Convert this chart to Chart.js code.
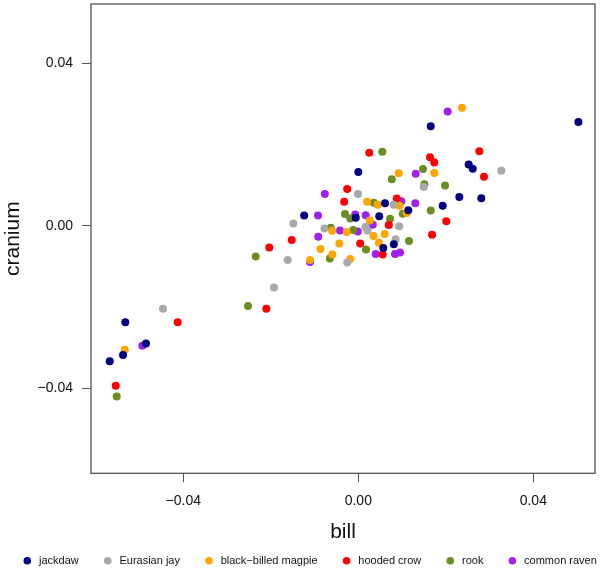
<!DOCTYPE html>
<html>
<head>
<meta charset="utf-8">
<script src="https://cdn.jsdelivr.net/npm/chart.js@4"></script>
<style>
  html, body { margin: 0; padding: 0; background: #fff; }
  #wrap { width: 600px; height: 569px; position: relative; }
</style>
</head>
<body>
<div id="wrap"><canvas id="c"></canvas></div>
<script>
// ---- data (bill, cranium) ----
const species = ['jackdaw', 'Eurasian jay', 'black\u2212billed magpie', 'hooded crow', 'rook', 'common raven'];
const speciesColors = ['#000080', '#A9A9A9', '#FFA500', '#FF0000', '#6B8E23', '#A020F0'];

const jackdaw = [[0.0503,0.02554],[0.01655,0.02449],[0.02523,0.01509],[0.02615,0.01403],[0.02309,0.0071],[0.02811,0.00676],[0.01929,0.0049],[0.0,0.01323],[0.0061,0.00554],[0.01143,0.00382],[-0.01237,0.00252],[-0.00059,0.00196],[0.00478,0.00233],[0.00811,-0.00458],[0.00571,-0.00549],[-0.05326,-0.02376],[-0.04853,-0.029],[-0.05378,-0.03184],[-0.05682,-0.03341]];
const eurasianJay = [[0.03269,0.01354],[0.01495,0.00955],[-0.00007,0.00779],[0.00805,0.00514],[0.00935,-0.0001],[0.00853,-0.00331],[-0.01486,0.00056],[-0.00773,-0.00071],[0.00165,-0.00029],[0.0021,-0.00115],[-0.01614,-0.00843],[-0.00254,-0.00904],[-0.01927,-0.01523],[-0.04464,-0.02043]];
const magpie = [[0.0237,0.02905],[0.00923,0.01293],[0.01737,0.01298],[0.00203,0.0059],[0.00441,0.00514],[0.00942,0.00492],[0.01106,0.00313],[0.00263,0.0013],[-0.00601,-0.00125],[-0.00265,-0.00157],[0.00347,-0.0025],[0.00603,-0.00206],[-0.00434,-0.00438],[0.00469,-0.00421],[-0.00864,-0.00576],[-0.00594,-0.00708],[-0.01104,-0.00845],[-0.00185,-0.00818],[-0.05339,-0.03054]];
const hoodedCrow = [[0.00251,0.01795],[0.01639,0.0169],[0.01737,0.01558],[0.02766,0.01837],[0.02873,0.01207],[-0.00254,0.00906],[-0.00322,0.00588],[0.00878,0.00669],[0.00697,0.00017],[0.02011,0.00113],[0.01685,-0.0022],[0.00043,-0.00438],[-0.01522,-0.00353],[-0.02034,-0.00539],[0.00558,-0.0071],[-0.02103,-0.02043],[-0.04128,-0.02376],[-0.05545,-0.03943]];
const rook = [[0.00549,0.0182],[0.00766,0.01146],[0.01479,0.01396],[0.01509,0.01019],[0.01982,0.00994],[0.00354,0.00566],[0.00885,0.00541],[0.01015,0.00294],[0.01655,0.00375],[-0.00304,0.00289],[-0.00185,0.00179],[0.00725,0.00171],[-0.00631,-0.00047],[-0.00117,-0.00103],[0.01159,-0.00377],[0.00176,-0.00588],[-0.00651,-0.00808],[-0.02345,-0.00759],[-0.02521,-0.01977],[-0.05522,-0.04205]];
const raven = [[0.02043,0.02817],[0.01312,0.01281],[0.00983,0.00602],[0.01303,0.00551],[-0.00766,0.00784],[-0.00921,0.00252],[-0.00071,0.00277],[0.00169,0.00257],[0.00331,0.00024],[-0.00418,-0.00115],[-0.00011,-0.0014],[-0.00917,-0.00269],[0.00398,-0.00696],[0.00839,-0.00696],[0.00953,-0.00659],[-0.01104,-0.00892],[-0.04937,-0.02956]];

const xTicks = [-0.04, 0, 0.04];
const xTickLabels = ['\u22120.04', '0.00', '0.04'];
const yTicks = [-0.04, 0, 0.04];
const yTickLabels = ['\u22120.04', '0.00', '0.04'];
const xRange = [-0.0611, 0.0541];
const yRange = [-0.06098, 0.05462];

const seriesData = [jackdaw, eurasianJay, magpie, hoodedCrow, rook, raven];

const FONT = "'Liberation Sans', Arial, Helvetica, sans-serif";

const datasets = species.map((name, i) => ({
  label: name,
  data: seriesData[i].map(p => ({x: p[0], y: p[1]})),
  backgroundColor: speciesColors[i],
  borderWidth: 0,
  pointRadius: 4,
  pointHoverRadius: 4
}));

const boxPlugin = {
  id: 'box',
  afterDatasetsDraw(chart) {
    const {ctx, chartArea: a} = chart;
    ctx.save();
    ctx.strokeStyle = '#555';
    ctx.lineWidth = 1.3;
    ctx.strokeRect(a.left, a.top, a.right - a.left, a.bottom - a.top);
    ctx.restore();
  }
};

const legendPlugin = {
  id: 'rlegend',
  afterDraw(chart) {
    const {ctx} = chart;
    const ds = chart.data.datasets;
    ctx.save();
    ctx.font = '11px ' + FONT;
    ctx.textBaseline = 'middle';
    ctx.textAlign = 'left';
    const y = 560.7;
    const r = 3.8, dotToText = 11.7, gap = 29;
    let x = 27.3;
    ds.forEach(d => {
      ctx.fillStyle = d.backgroundColor;
      ctx.beginPath();
      ctx.arc(x, y, r, 0, Math.PI * 2);
      ctx.fill();
      ctx.fillStyle = '#111';
      const tx = x + dotToText;
      ctx.fillText(d.label, tx, y);
      x = tx + ctx.measureText(d.label).width + gap;
    });
    ctx.restore();
  }
};

new Chart(document.getElementById('c'), {
  type: 'scatter',
  data: { datasets },
  plugins: [boxPlugin, legendPlugin],
  options: {
    responsive: true,
    maintainAspectRatio: false,
    animation: false,
    layout: { padding: { left: 0, right: 5, top: 1.3, bottom: 0 } },
    plugins: { legend: { display: false }, tooltip: { enabled: false } },
    scales: {
      x: {
        type: 'linear',
        min: xRange[0], max: xRange[1],
        afterBuildTicks: s => { s.ticks = xTicks.map(v => ({value: v})); },
        afterFit: s => { s.height = 95.7; s.paddingLeft = 0; s.paddingRight = 0; },
        ticks: {
          callback: (v) => xTickLabels[xTicks.indexOf(v)] ?? '',
          font: { family: FONT, size: 14 },
          color: '#111',
          padding: 10,
          maxRotation: 0, autoSkip: false
        },
        grid: { display: true, drawOnChartArea: false, drawTicks: true, tickLength: 9, color: '#555', lineWidth: 1 },
        border: { display: false },
        title: { display: true, text: 'bill', font: { family: FONT, size: 21 }, color: '#111', padding: { top: 0, bottom: 24 } }
      },
      y: {
        type: 'linear',
        min: yRange[0], max: yRange[1],
        afterBuildTicks: s => { s.ticks = yTicks.map(v => ({value: v})); },
        afterFit: s => { s.width = 91; s.paddingTop = 0; s.paddingBottom = 0; },
        ticks: {
          callback: (v) => yTickLabels[yTicks.indexOf(v)] ?? '',
          font: { family: FONT, size: 14 },
          color: '#111',
          padding: 9,
          autoSkip: false
        },
        grid: { display: true, drawOnChartArea: false, drawTicks: true, tickLength: 9, color: '#555', lineWidth: 1 },
        border: { display: false },
        title: { display: true, text: 'cranium', font: { family: FONT, size: 21 }, color: '#111', padding: { top: 1, bottom: 0 } }
      }
    }
  }
});
</script>
</body>
</html>
